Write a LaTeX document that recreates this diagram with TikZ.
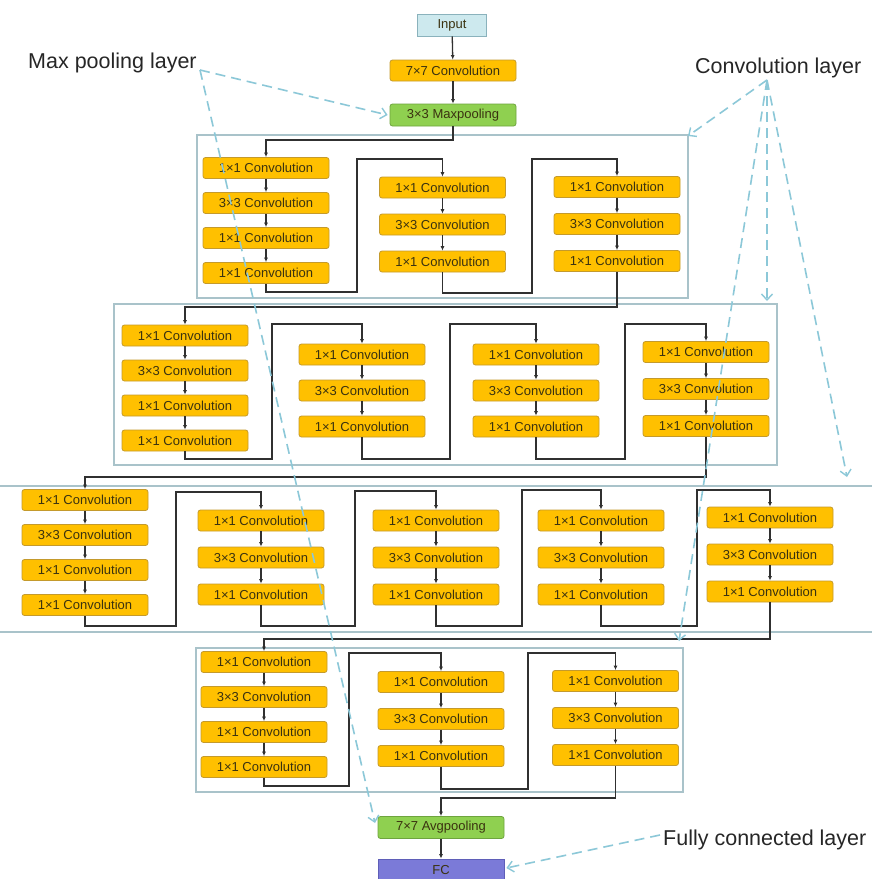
\documentclass[tikz,border=0pt]{standalone}
\usepackage{fontspec}
\setmainfont{Liberation Sans}
\usetikzlibrary{arrows.meta}
\definecolor{orfill}{HTML}{FFC000}
\definecolor{ordraw}{HTML}{C49A2C}
\definecolor{grfill}{HTML}{8FD050}
\definecolor{grdraw}{HTML}{6EA43E}
\definecolor{infill}{HTML}{CDE9EE}
\definecolor{indraw}{HTML}{8AB2BC}
\definecolor{fcfill}{HTML}{7B7AD8}
\definecolor{fcdraw}{HTML}{5F5EB8}
\definecolor{framec}{HTML}{A9C3CA}
\definecolor{dashc}{HTML}{8CC8D8}
\definecolor{linec}{HTML}{303030}
\definecolor{txtc}{HTML}{3A3210}
\tikzset{
  cbox/.style={rounded corners=2.5pt, minimum width=126pt, minimum height=21pt, inner sep=0pt,
    fill=orfill, draw=ordraw, line width=0.8pt, text=txtc, font=\fontsize{13}{14}\selectfont},
  gbox/.style={cbox, fill=grfill, draw=grdraw},
  conn/.style={draw=linec, line width=1.3pt, -{Latex[length=4.5pt,width=4pt]}},
  frame/.style={draw=framec, line width=1.3pt},
  lab/.style={font=\fontsize{21.5}{24}\selectfont, text=black!85, inner sep=0pt},
  note/.style={draw=dashc, line width=1.6pt, dash pattern=on 10pt off 6pt,
    -{Straight Barb[length=6pt,width=11pt,line width=1.4pt]}}
}
\newcommand{\colfour}[3]{%
  \node[cbox] (#1a) at (#2,#3) {1×1 Convolution};
  \node[cbox] (#1b) at (#2,#3+35) {3×3 Convolution};
  \node[cbox] (#1c) at (#2,#3+70) {1×1 Convolution};
  \node[cbox] (#1d) at (#2,#3+105) {1×1 Convolution};
  \draw[conn] (#1a) -- (#1b);
  \draw[conn] (#1b) -- (#1c);
  \draw[conn] (#1c) -- (#1d);}
\newcommand{\colthree}[4]{%
  \node[cbox] (#1a) at (#2,#3) {1×1 Convolution};
  \node[cbox] (#1b) at (#2,#3+#4) {3×3 Convolution};
  \node[cbox] (#1c) at (#2,#3+2*#4) {1×1 Convolution};
  \draw[conn] (#1a) -- (#1b);
  \draw[conn] (#1b) -- (#1c);}
\begin{document}
\begin{tikzpicture}[x=1pt,y=-1pt]
\useasboundingbox[fill=white] (0,0) rectangle (872,879);

% containers
\draw[frame] (197,135) rectangle (688,298);
\draw[frame] (114,304) rectangle (777,465);
\draw[frame] (0,486) -- (872,486);
\draw[frame] (0,632) -- (872,632);
\draw[frame] (196,648) rectangle (683,792);

% top
\node[cbox, fill=infill, draw=indraw, rounded corners=0pt, minimum width=69pt, minimum height=22pt] (inp) at (452,25) {Input};
\node[cbox] (c7) at (453,70.5) {7×7 Convolution};
\node[gbox, minimum height=22pt] (mp) at (453,115) {3×3 Maxpooling};
\draw[conn] (inp) -- (c7);
\draw[conn] (c7) -- (mp);

% block 1
\colfour{pa}{266}{168}
\colthree{pb}{442.5}{187.5}{37}
\colthree{pc}{617}{187}{37}
% block 2
\colfour{pd}{185}{335.5}
\colthree{pe}{362}{354.5}{36}
\colthree{pf}{536}{354.5}{36}
\colthree{pg}{706}{352}{37}
% block 3
\colfour{ph}{85}{500}
\colthree{pi}{261}{520.5}{37}
\colthree{pj}{436}{520.5}{37}
\colthree{pk}{601}{520.5}{37}
\colthree{pl}{770}{517.5}{37}
% block 4
\colfour{pm}{264}{662}
\colthree{pn}{441}{682}{37}
\colthree{po}{615.5}{681}{37}

% bottom
\node[gbox, minimum height=22pt] (avg) at (441,827.5) {7×7 Avgpooling};
\node[cbox, fill=fcfill, draw=fcdraw, rounded corners=0pt, minimum height=22pt] (fc) at (441,870) {FC};
\draw[conn] (avg) -- (fc);

% connectors
\draw[conn] (mp.south) |- (paa.north |- 0,140) -- (paa.north);
\draw[conn] (pad.south) |- (357,292) |- (pba.north |- 0,159) -- (pba.north);
\draw[conn] (pbc.south) |- (532,293) |- (pca.north |- 0,159) -- (pca.north);
\draw[conn] (pcc.south) |- (pda.north |- 0,307) -- (pda.north);

\draw[conn] (pdd.south) |- (272,459) |- (pea.north |- 0,324) -- (pea.north);
\draw[conn] (pec.south) |- (450,459) |- (pfa.north |- 0,324) -- (pfa.north);
\draw[conn] (pfc.south) |- (625,459) |- (pga.north |- 0,324) -- (pga.north);
\draw[conn] (pgc.south) |- (pha.north |- 0,477) -- (pha.north);

\draw[conn] (phd.south) |- (176,626) |- (pia.north |- 0,492) -- (pia.north);
\draw[conn] (pic.south) |- (355,626) |- (pja.north |- 0,491) -- (pja.north);
\draw[conn] (pjc.south) |- (522,626) |- (pka.north |- 0,490) -- (pka.north);
\draw[conn] (pkc.south) |- (697,626) |- (pla.north |- 0,490) -- (pla.north);
\draw[conn] (plc.south) |- (pma.north |- 0,639) -- (pma.north);

\draw[conn] (pmd.south) |- (349,786) |- (pna.north |- 0,653) -- (pna.north);
\draw[conn] (pnc.south) |- (528,789) |- (poa.north |- 0,653) -- (poa.north);
\draw[conn] (poc.south) |- (avg.north |- 0,798) -- (avg.north);

% labels
\node[lab, anchor=base west] (lmp) at (28,68) {Max pooling layer};
\node[lab, anchor=base west] (lcv) at (695,73) {Convolution layer};
\node[lab, anchor=base west] (lfc) at (663,845) {Fully connected layer};

\coordinate (mpo) at (200,70);
\coordinate (cvo) at (767,80);
\coordinate (fco) at (660,835);
\coordinate (k1) at (688,136);
\coordinate (k2) at (767,301);
\coordinate (k3) at (847,477);
\coordinate (k4) at (679,641);
\coordinate (k5) at (375,823);

\draw[note] (mpo) -- ([xshift=-2pt]mp.west);
\draw[note] (mpo) -- (k5);
\draw[note] (cvo) -- (k1);
\draw[note] (cvo) -- (k2);
\draw[note] (cvo) -- (k3);
\draw[note] (cvo) -- (k4);
\draw[note] (fco) -- ([xshift=2pt,yshift=2pt]fc.east);
\end{tikzpicture}
\end{document}
